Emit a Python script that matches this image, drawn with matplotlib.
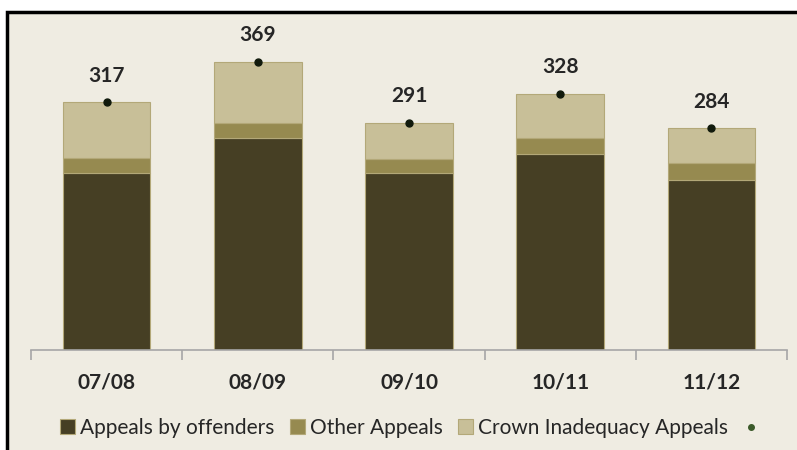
import matplotlib
matplotlib.use("Agg")
import matplotlib.pyplot as plt
from matplotlib.patches import Rectangle, Patch
from matplotlib.lines import Line2D
import numpy as np

years = ["07/08", "08/09", "09/10", "10/11", "11/12"]
offenders = [227, 272, 227, 251, 218]
other = [19, 19, 17, 21, 21]
crown = [71, 78, 47, 56, 45]
totals = [317, 369, 291, 328, 284]

series_names = ["Appeals by offenders", "Other Appeals", "Crown Inadequacy Appeals"]
colors = ["#463F24", "#968A50", "#C8BF98"]
bg = "#EFECE2"
edge = "#B3A878"

plt.rcParams["font.family"] = ["Lato", "DejaVu Sans"]

W, H = 797, 450
fig = plt.figure(figsize=(W / 100, H / 100), dpi=100, facecolor="white")

# beige panel with a dark frame on top and left
fig.patches.append(Rectangle((7 / W, -0.01), 1.02, (H - 12) / H + 0.01,
                             transform=fig.transFigure, facecolor=bg,
                             edgecolor="black", linewidth=2.5, zorder=-5))

ax = fig.add_axes([31 / W, 100 / H, 756 / W, 312.4 / H])
ax.set_facecolor("none")
ax.set_zorder(2)

x = np.arange(len(years))
width = 0.58
ax.bar(x, offenders, width, color=colors[0], edgecolor=edge, linewidth=0.8)
ax.bar(x, other, width, bottom=offenders, color=colors[1], edgecolor=edge, linewidth=0.8)
base3 = np.array(offenders) + np.array(other)
ax.bar(x, crown, width, bottom=base3, color=colors[2], edgecolor=edge, linewidth=0.8)

ax.plot(x, totals, linestyle="none", marker="o", markersize=5, color="#111a0c", zorder=5)
for xi, t in zip(x, totals):
    ax.annotate(str(t), (xi, t), xytext=(0, 19), textcoords="offset points",
                ha="center", va="center", fontsize=15, fontweight="bold",
                color="#262626", annotation_clip=False)

ax.set_xlim(-0.5, len(years) - 0.5)
ax.set_ylim(0, 400)
for s in ["top", "left", "right"]:
    ax.spines[s].set_visible(False)
ax.spines["bottom"].set_color("#A6A6A6")
ax.spines["bottom"].set_linewidth(1.2)
ax.set_yticks([])
ax.set_xticks(x)
ax.set_xticklabels(years, fontsize=15, fontweight="bold", color="#262626")
ax.tick_params(axis="x", which="major", length=0, pad=16)
ax.set_xticks(np.arange(-0.5, len(years)), minor=True)
ax.tick_params(axis="x", which="minor", length=7, width=1.2, color="#A6A6A6", direction="out")

handles = [Patch(facecolor=c, edgecolor=edge, linewidth=0.8) for c in colors]
handles.append(Line2D([], [], linestyle="none", marker="o", markersize=4, color="#3B5A2A"))
labels = series_names + [""]
fig.legend(handles, labels, loc="center", bbox_to_anchor=(412 / W, 1 - 428 / H),
           ncol=4, frameon=False, fontsize=15, handlelength=0.7, handleheight=0.7,
           handletextpad=0.25, columnspacing=0.75, labelcolor="#262626")

fig.savefig("out.png", dpi=100, facecolor="white")
